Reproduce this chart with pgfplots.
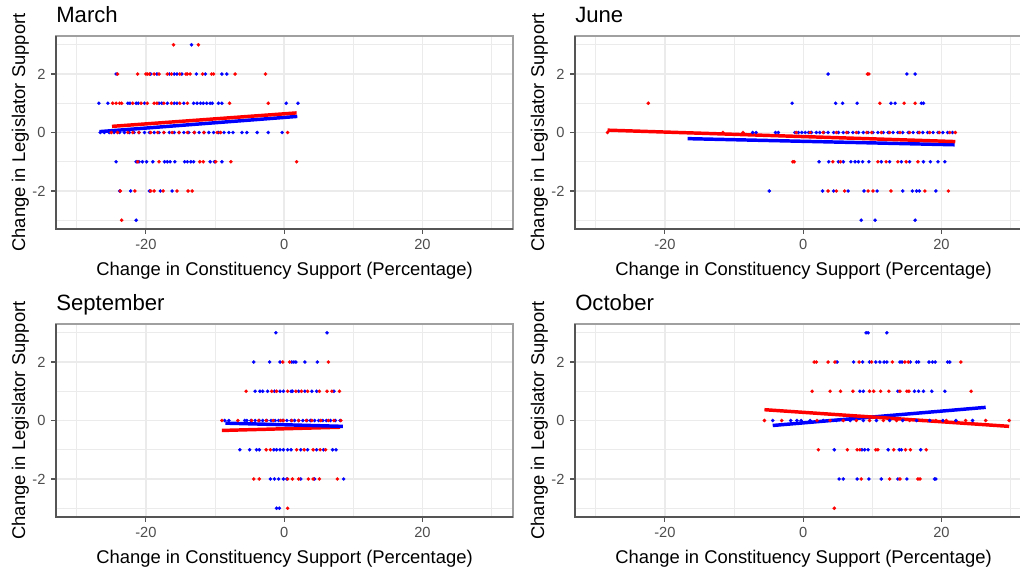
\documentclass[border=0pt]{standalone}
\usepackage{pgfplots}
\pgfplotsset{compat=1.18}
\usepackage{fontspec}
\setmainfont{Liberation Sans}
\definecolor{gridc}{HTML}{EBEBEB}
\definecolor{bordc}{HTML}{A0A0A0}
\definecolor{axc}{HTML}{555555}
\definecolor{tickc}{HTML}{4D4D4D}
\definecolor{ptred}{HTML}{FF0000}
\definecolor{ptblue}{HTML}{0000FF}
\pgfplotsset{
  panel/.style={
    scale only axis, width=342.75pt, height=144.75pt,
    xmin=-33, xmax=33.1, ymin=-3.3, ymax=3.3,
    xtick={-20,0,20}, xticklabels={-20,0,20},
    ytick={-2,0,2}, yticklabels={-2,0,2},
    minor xtick={-30,-10,10,30}, minor ytick={-3,-1,1,3},
    grid=both,
    major grid style={draw=gridc, line width=1pt},
    minor grid style={draw=gridc, line width=0.6pt},
    axis line style={draw=bordc, line width=0.8pt},
    tick align=outside, xtick pos=left, ytick pos=left,
    major tick length=3.4pt, minor tick length=0pt,
    tick style={draw=axc, line width=0.8pt},
    tick label style={font=\fontsize{11}{13}\selectfont, text=tickc},
    xticklabel style={yshift=-1pt},
    yticklabel style={xshift=-1pt},
    label style={font=\fontsize{13.8}{16}\selectfont},
    xlabel={Change in Constituency Support (Percentage)},
    ylabel={Change in Legislator Support},
    xlabel style={at={(axis description cs:0.5,-0.218)}, anchor=center},
    ylabel style={at={(axis description cs:-0.078,0.5)}, anchor=center},
    title style={at={(axis description cs:0,1.03)}, anchor=base west, inner sep=0pt, font=\fontsize{16.6}{19}\selectfont},
    after end axis/.code={\draw[axc, line width=0.8pt] (rel axis cs:0,1) -- (rel axis cs:0,0) -- (rel axis cs:1,0);},
  },
  pb/.style={only marks, mark=*, mark size=1.3pt, color=ptblue, mark options={line width=0.1pt}},
  pr/.style={only marks, mark=*, mark size=1.3pt, color=ptred, mark options={line width=0.1pt}},
  fb/.style={no marks, color=ptblue, line width=2.6pt},
  fr/.style={no marks, color=ptred, line width=2.6pt},
}
\begin{document}
\begin{tikzpicture}
% ---------------- March ----------------
\begin{axis}[panel, at={(42pt,-27pt)}, anchor=north west, title={March}]
\addplot[pb] coordinates {
(-13.4,3)
(-24.3,2)(-19.3,2)(-18.4,2)(-16.6,2)(-15.9,2)(-15.5,2)(-14.8,2)(-12.7,2)(-11.4,2)(-9.0,2)(-8.3,2)
(-26.8,1)(-25.5,1)(-22.6,1)(-22.3,1)(-21.4,1)(-21.1,1)(-20.2,1)(-18.1,1)(-17.7,1)(-16.9,1)(-15.9,1)(-15.5,1)(-14.5,1)(-13.1,1)(-12.6,1)(-12.1,1)(-11.7,1)(-11.2,1)(-10.7,1)(-10.4,1)(-9.5,1)(-9.0,1)(0.3,1)(2.0,1)
(-26.6,0)(-26.0,0)(-25.3,0)(-24.6,0)(-23.8,0)(-23.1,0)(-22.4,0)(-21.7,0)(-21.0,0)(-20.2,0)(-19.5,0)(-18.8,0)(-18.1,0)(-17.4,0)(-16.6,0)(-15.9,0)(-15.2,0)(-14.5,0)(-13.8,0)(-13.0,0)(-12.3,0)(-11.6,0)(-10.9,0)(-10.2,0)(-9.5,0)(-8.7,0)(-8.0,0)(-7.4,0)(-6.1,0)(-5.4,0)(-3.9,0)(-2.3,0)(-0.3,0)
(-24.3,-1)(-21.4,-1)(-21.0,-1)(-20.5,-1)(-19.9,-1)(-19.0,-1)(-17.3,-1)(-16.9,-1)(-16.5,-1)(-15.8,-1)(-14.4,-1)(-14.0,-1)(-13.5,-1)(-13.1,-1)(-10.7,-1)(-10.1,-1)(-9.0,-1)
(-23.8,-2)(-22.2,-2)(-19.5,-2)(-17.9,-2)(-16.2,-2)
(-21.4,-3)
};
\addplot[pr] coordinates {
(-16.0,3)(-12.4,3)
(-24.1,2)(-21.2,2)(-20.0,2)(-19.8,2)(-19.5,2)(-18.8,2)(-18.1,2)(-16.9,2)(-16.3,2)(-15.1,2)(-14.2,2)(-14.0,2)(-13.6,2)(-11.8,2)(-10.5,2)(-10.2,2)(-7.1,2)(-2.7,2)
(-24.8,1)(-24.3,1)(-23.8,1)(-23.5,1)(-21.9,1)(-20.7,1)(-19.8,1)(-18.8,1)(-18.4,1)(-17.4,1)(-16.3,1)(-15.1,1)(-14.0,1)(-7.9,1)(-2.3,1)
(-25.0,0)(-24.1,0)(-22.6,0)(-21.9,0)(-21.0,0)(-19.3,0)(-18.3,0)(-17.4,0)(-16.2,0)(-15.2,0)(-14.0,0)(-13.0,0)(-11.6,0)(-9.7,0)(-9.2,0)(0.5,0)
(-21.2,-1)(-18.1,-1)(-12.2,-1)(-11.7,-1)(-9.9,-1)(-7.7,-1)(1.8,-1)
(-23.7,-2)(-21.6,-2)(-19.3,-2)(-18.8,-2)(-17.5,-2)(-15.5,-2)(-13.9,-2)(-13.3,-2)
(-23.5,-3)
};
\addplot[fb] coordinates {(-26.7,0.03)(1.9,0.55)};
\addplot[fr] coordinates {(-24.9,0.21)(1.8,0.67)};
\end{axis}
% ---------------- June ----------------
\begin{axis}[panel, at={(431.25pt,-27pt)}, anchor=north west, title={June}]
\addplot[pb] coordinates {
(3.6,2)(15.0,2)(16.2,2)
(-1.6,1)(4.7,1)(5.7,1)(7.8,1)(12.7,1)(13.3,1)(17.1,1)(17.4,1)
(-7.3,0)(-6.8,0)(-4.0,0)(-3.6,0)(-1.2,0)(-0.7,0)(-0.2,0)(0.3,0)(0.8,0)(1.2,0)(1.9,0)(2.4,0)(3.0,0)(3.6,0)(4.4,0)(5.1,0)(5.8,0)(6.5,0)(7.2,0)(8.0,0)(8.7,0)(9.4,0)(10.1,0)(10.8,0)(11.6,0)(12.3,0)(13.0,0)(13.7,0)(14.4,0)(15.2,0)(15.9,0)(16.6,0)(17.3,0)(18.0,0)(18.8,0)(19.5,0)(20.2,0)(20.9,0)(21.6,0)
(2.3,-1)(3.7,-1)(5.1,-1)(5.8,-1)(6.9,-1)(7.5,-1)(8.0,-1)(8.6,-1)(9.5,-1)(11.3,-1)(12.5,-1)(14.2,-1)(15.4,-1)(17.4,-1)(18.4,-1)(19.5,-1)(20.5,-1)
(-4.9,-2)(2.8,-2)(4.4,-2)(6.5,-2)(8.8,-2)(10.7,-2)(14.4,-2)(15.8,-2)(16.4,-2)(16.8,-2)(19.2,-2)
(8.4,-3)(10.4,-3)(16.2,-3)
};
\addplot[pr] coordinates {
(9.3,2)(9.5,2)
(-22.4,1)(11.1,1)(14.6,1)(16.2,1)
(-28.3,0)(-11.6,0)(-8.7,0)(-1.0,0)(1.0,0)(2.9,0)(4.8,0)(6.3,0)(7.7,0)(9.2,0)(9.9,0)(11.3,0)(12.5,0)(14.0,0)(15.4,0)(16.8,0)(18.3,0)(19.7,0)(21.2,0)(22.0,0)
(-1.5,-1)(-1.3,-1)(4.3,-1)(5.4,-1)(10.8,-1)(12.0,-1)(13.7,-1)(14.9,-1)(16.6,-1)
(3.6,-2)(4.8,-2)(6.0,-2)(9.4,-2)(10.1,-2)(12.7,-2)(17.6,-2)(21.0,-2)
};
\addplot[fb] coordinates {(-16.7,-0.21)(21.9,-0.42)};
\addplot[fr] coordinates {(-28.3,0.08)(22.0,-0.31)};
\end{axis}
% ---------------- September ----------------
\begin{axis}[panel, at={(42pt,-243pt)}, anchor=north west, title={September}]
\addplot[pb] coordinates {
(-1.2,3)(6.2,3)
(-4.4,2)(-2.1,2)(-0.6,2)(1.1,2)(1.4,2)(1.7,2)(3.0,2)(4.8,2)
(-4.2,1)(-3.5,1)(-3.1,1)(-2.4,1)(-1.4,1)(-0.6,1)(-0.1,1)(1.0,1)(1.2,1)(2.1,1)(3.0,1)(4.0,1)(4.7,1)(7.2,1)
(-8.6,0)(-8.0,0)(-5.7,0)(-5.4,0)(-4.8,0)(-4.2,0)(-3.6,0)(-3.1,0)(-2.5,0)(-1.9,0)(-1.3,0)(-0.8,0)(-0.2,0)(0.4,0)(1.0,0)(1.5,0)(2.1,0)(2.7,0)(3.3,0)(3.8,0)(4.4,0)(5.0,0)(5.6,0)(6.1,0)(6.7,0)(7.4,0)(8.1,0)
(-6.4,-1)(-5.0,-1)(-4.0,-1)(-3.6,-1)(-1.5,-1)(-1.1,-1)(-0.6,-1)(-0.1,-1)(0.5,-1)(1.0,-1)(2.4,-1)(3.4,-1)(4.7,-1)(5.7,-1)(7.0,-1)(7.5,-1)
(-2.0,-2)(-1.4,-2)(-0.8,-2)(-0.1,-2)(0.4,-2)(2.4,-2)(4.4,-2)(8.6,-2)
(-1.1,-3)(-0.7,-3)
};
\addplot[pr] coordinates {
(-0.2,2)(0.8,2)(6.4,2)
(-5.5,1)(-1.8,1)(-1.1,1)(0.5,1)(1.7,1)(2.5,1)(3.4,1)(5.1,1)(6.2,1)(6.9,1)(8.0,1)
(-9.0,0)(-6.7,0)(-4.7,0)(-3.7,0)(-2.6,0)(-1.6,0)(-0.5,0)(-0.1,0)(1.1,0)(2.1,0)(3.2,0)(4.0,0)(5.3,0)(6.4,0)(7.2,0)(8.2,0)
(-2.6,-1)(-2.0,-1)(1.8,-1)(2.9,-1)(4.2,-1)(5.2,-1)(6.0,-1)
(-4.4,-2)(-3.6,-2)(0.5,-2)(1.2,-2)(2.1,-2)(3.5,-2)(4.2,-2)(5.1,-2)(7.7,-2)
(0.5,-3)
};
\addplot[fr] coordinates {(-9.0,-0.34)(8.1,-0.23)};
\addplot[fb] coordinates {(-8.5,-0.09)(8.5,-0.20)};
\end{axis}
% ---------------- October ----------------
\begin{axis}[panel, at={(431.25pt,-243pt)}, anchor=north west, title={October}]
\addplot[pb] coordinates {
(9.1,3)(9.4,3)(12.1,3)
(4.9,2)(7.3,2)(8.6,2)(9.6,2)(10.5,2)(11.1,2)(11.7,2)(12.1,2)(14.0,2)(14.3,2)(15.5,2)(16.4,2)(16.7,2)(18.2,2)(18.7,2)(19.1,2)(20.9,2)(21.2,2)
(8.2,1)(8.7,1)(13.7,1)(16.1,1)(16.7,1)(17.4,1)(18.6,1)(20.5,1)
(-4.4,0)(-1.8,0)(-0.9,0)(-0.3,0)(1.0,0)(2.9,0)(4.8,0)(6.8,0)(8.7,0)(10.6,0)(12.5,0)(14.4,0)(16.4,0)(18.3,0)(20.2,0)(22.1,0)(24.5,0)
(4.5,-1)(8.5,-1)(8.9,-1)(9.4,-1)(12.3,-1)(13.9,-1)(14.2,-1)(17.0,-1)
(5.2,-2)(5.8,-2)(7.8,-2)(9.5,-2)(11.3,-2)(13.7,-2)(15.0,-2)(19.0,-2)(19.2,-2)
};
\addplot[pr] coordinates {
(1.6,2)(1.9,2)(3.6,2)(4.6,2)(8.1,2)(9.9,2)(12.9,2)(14.7,2)(15.2,2)(22.8,2)
(1.3,1)(3.9,1)(5.4,1)(7.2,1)(9.6,1)(10.2,1)(11.2,1)(12.4,1)(14.0,1)(15.0,1)(15.3,1)(24.3,1)
(-5.6,0)(-3.1,0)(2.0,0)(3.9,0)(5.8,0)(7.7,0)(9.6,0)(11.6,0)(13.5,0)(15.4,0)(17.3,0)(19.2,0)(20.7,0)(23.5,0)(26.4,0)(29.8,0)
(2.2,-1)(6.4,-1)(7.8,-1)(8.2,-1)(10.5,-1)(10.8,-1)(13.1,-1)(14.8,-1)(15.5,-1)(17.8,-1)
(8.4,-2)(12.5,-2)(14.0,-2)(16.6,-2)(16.9,-2)
(4.5,-3)
};
\addplot[fb] coordinates {(-4.4,-0.17)(26.4,0.45)};
\addplot[fr] coordinates {(-5.6,0.37)(29.8,-0.20)};
\end{axis}
\pgfresetboundingbox
\path (0pt,0pt) rectangle (765pt,-426.75pt);
\end{tikzpicture}
\end{document}
